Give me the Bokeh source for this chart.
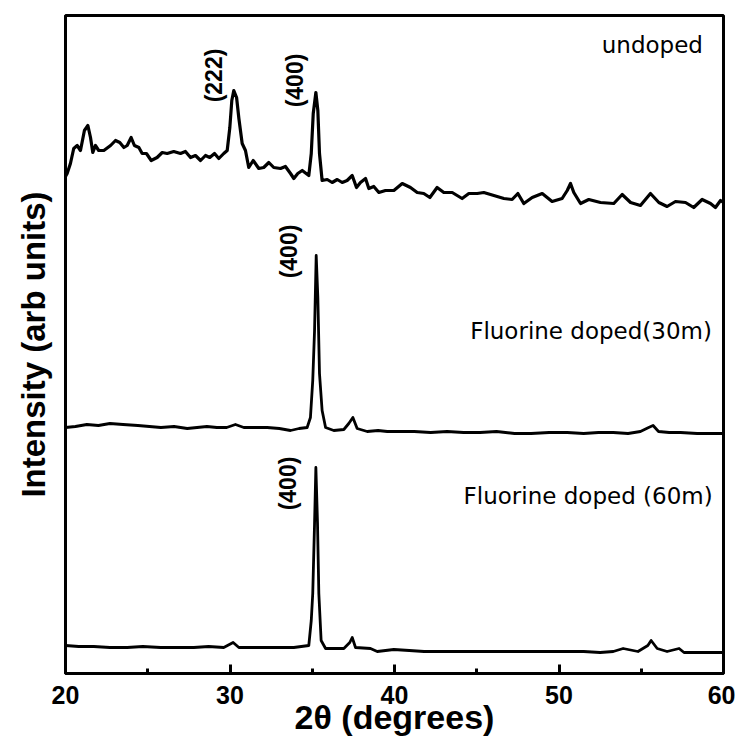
import math
from bokeh.plotting import figure
from bokeh.models import Range1d, FixedTicker
from bokeh.embed import file_html
from bokeh.resources import INLINE
from bokeh.core.properties import value

# ---- data (2theta in degrees, intensity in arbitrary units incl. vertical offset) ----
tt_undoped = [20.00, 20.10, 20.30, 20.50, 20.71, 20.91, 21.15, 21.36, 21.52, 21.66, 21.82, 22.02,
              22.33, 22.74, 23.04, 23.30, 23.55, 23.75, 23.99, 24.19, 24.46, 24.66, 24.92, 25.21,
              25.57, 25.88, 26.18, 26.58, 26.99, 27.29, 27.60, 27.90, 28.21, 28.51, 28.77, 29.06,
              29.32, 29.62, 29.83, 29.99, 30.11, 30.23, 30.40, 30.54, 30.74, 30.94, 31.14, 31.41,
              31.75, 32.05, 32.36, 32.66, 33.07, 33.37, 33.68, 33.88, 34.12, 34.39, 34.79, 34.94,
              35.06, 35.22, 35.34, 35.44, 35.60, 35.91, 36.21, 36.52, 36.82, 37.12, 37.43, 37.69,
              37.93, 38.24, 38.44, 38.74, 39.05, 39.45, 39.96, 40.47, 40.97, 41.38, 41.78, 42.15,
              42.59, 43.00, 43.51, 44.11, 44.52, 45.03, 45.43, 46.04, 46.65, 47.15, 47.50, 47.86,
              48.37, 48.98, 49.58, 50.19, 50.50, 50.70, 50.90, 51.31, 51.81, 52.52, 53.33, 53.84,
              54.35, 54.95, 55.56, 56.07, 56.57, 57.08, 57.69, 58.19, 58.70, 59.21, 59.51, 59.82, 60.00]
i_undoped = [497, 500, 510, 525, 528, 523, 543, 548, 536, 521, 528, 523,
             523, 528, 533, 531, 526, 528, 536, 528, 526, 520, 520, 513,
             516, 521, 520, 522, 520, 522, 516, 518, 513, 518, 516, 520,
             515, 520, 523, 546, 573, 583, 576, 555, 530, 523, 506, 513,
             505, 506, 511, 506, 505, 507, 500, 495, 500, 503, 498, 520,
             560, 581, 563, 520, 493, 494, 491, 494, 491, 493, 498, 486,
             491, 495, 485, 487, 481, 483, 483, 490, 486, 481, 480, 476,
             486, 481, 481, 475, 480, 480, 481, 478, 475, 474, 480, 470,
             476, 480, 472, 475, 483, 490, 481, 470, 474, 471, 470, 479,
             471, 468, 480, 471, 467, 472, 471, 466, 474, 470, 466, 473, 471]

tt_30m = [20.00, 20.60, 21.30, 22.00, 22.70, 23.50, 24.40, 25.10, 25.80, 26.60, 27.40, 28.00,
          28.60, 29.20, 29.80, 30.33, 30.84, 31.50, 32.26, 33.00, 33.68, 34.20, 34.69, 34.89,
          35.03, 35.14, 35.24, 35.34, 35.44, 35.60, 35.81, 36.31, 36.92, 37.22, 37.47, 37.73,
          38.34, 39.00, 39.56, 40.40, 41.20, 42.20, 43.20, 44.20, 45.20, 46.20, 47.30, 48.30,
          49.40, 50.50, 51.50, 52.40, 53.30, 54.20, 54.95, 55.45, 55.72, 56.05, 56.70, 57.39,
          58.40, 59.40, 60.00]
i_30m = [246, 247, 249, 248, 250, 249, 248, 247, 246, 247, 245, 246,
         247, 246, 246, 249, 246, 246, 246, 245, 243, 245, 246, 256,
         293, 343, 418, 376, 300, 263, 246, 243, 244, 250, 256, 245,
         242, 243, 242, 242, 242, 241, 242, 241, 241, 242, 240, 240,
         241, 241, 240, 241, 241, 240, 242, 246, 248, 242, 241, 241,
         240, 240, 240]

tt_60m = [20.00, 20.80, 21.72, 22.70, 23.75, 24.70, 25.78, 26.80, 27.80, 28.70, 29.62, 30.19,
          30.54, 31.40, 32.26, 33.10, 33.88, 34.79, 34.94, 35.03, 35.14, 35.22, 35.32, 35.40,
          35.54, 35.81, 36.40, 36.92, 37.28, 37.43, 37.63, 38.54, 38.95, 39.96, 40.90, 41.80,
          43.00, 44.50, 46.30, 48.30, 50.30, 51.50, 52.50, 53.30, 53.90, 54.80, 55.40, 55.60,
          55.97, 56.57, 57.30, 57.60, 58.50, 59.40, 60.00]
i_60m = [28, 27, 27, 26, 26, 27, 26, 26, 26, 27, 26, 31,
         26, 26, 26, 26, 26, 28, 53, 80, 150, 206, 150, 80,
         33, 25, 25, 25, 31, 36, 26, 25, 22, 24, 23, 22,
         22, 22, 22, 22, 22, 22, 21, 22, 25, 22, 28, 33,
         25, 22, 25, 21, 21, 21, 21]

x_ticks = [20, 30, 40, 50, 60]
x_minor_ticks = [25, 35, 45, 55]

p = figure(width=735, height=740, output_backend="svg", toolbar_location=None,
           x_range=Range1d(20, 60), y_range=Range1d(0, 658),
           min_border_left=65, min_border_right=12, min_border_top=15, min_border_bottom=67)
p.grid.visible = False
p.background_fill_color = "white"
p.border_fill_color = "white"
p.outline_line_color = "black"
p.outline_line_width = 3

for xs, ys, lw in [(tt_undoped, i_undoped, 3.2), (tt_30m, i_30m, 2.8), (tt_60m, i_60m, 2.8)]:
    p.line(xs, ys, line_color="black", line_width=lw, line_join="round")

# x axis
xa = p.xaxis[0]
xa.ticker = FixedTicker(ticks=x_ticks, minor_ticks=x_minor_ticks)
xa.major_tick_in = 9
xa.major_tick_out = 0
xa.minor_tick_in = 5
xa.minor_tick_out = 0
xa.axis_line_width = 3
xa.major_tick_line_width = 3
xa.minor_tick_line_width = 3
xa.major_label_text_font = "Liberation Sans"
xa.major_label_text_font_style = "bold"
xa.major_label_text_font_size = "25px"
xa.major_label_text_color = "black"
xa.major_label_standoff = 12
xa.axis_label = "2θ (degrees)"
xa.axis_label_text_font = "Liberation Sans"
xa.axis_label_text_font_style = "bold"
xa.axis_label_text_font_size = "34px"
xa.axis_label_text_color = "black"
xa.axis_label_standoff = -9

# y axis (no ticks, no tick labels)
ya = p.yaxis[0]
ya.ticker = FixedTicker(ticks=[])
ya.major_label_text_font_size = "0px"
ya.major_tick_in = 0
ya.major_tick_out = 0
ya.minor_tick_in = 0
ya.minor_tick_out = 0
ya.axis_line_width = 3
ya.axis_label = "Intensity (arb units)"
ya.axis_label_text_font = "Liberation Sans"
ya.axis_label_text_font_style = "bold"
ya.axis_label_text_font_size = "33px"
ya.axis_label_text_color = "black"
ya.axis_label_standoff = 14

# sample labels
p.text(x=[52.6, 44.6, 44.2], y=[629, 343, 178],
       text=["undoped", "Fluorine doped(30m)", "Fluorine doped (60m)"],
       text_font=value("DejaVu Sans"), text_font_size="23px", text_color="black",
       text_align="left", text_baseline="middle")

# reflection labels
p.text(x=[29.0, 33.98, 33.56, 33.5], y=[598, 593, 422, 190],
       text=["(222)", "(400)", "(400)", "(400)"], angle=math.pi / 2,
       text_font=value("Liberation Sans"), text_font_style="bold", text_font_size="23px",
       text_color="black", text_align="center", text_baseline="middle")

open("out.html", "w").write(file_html(p, INLINE))
